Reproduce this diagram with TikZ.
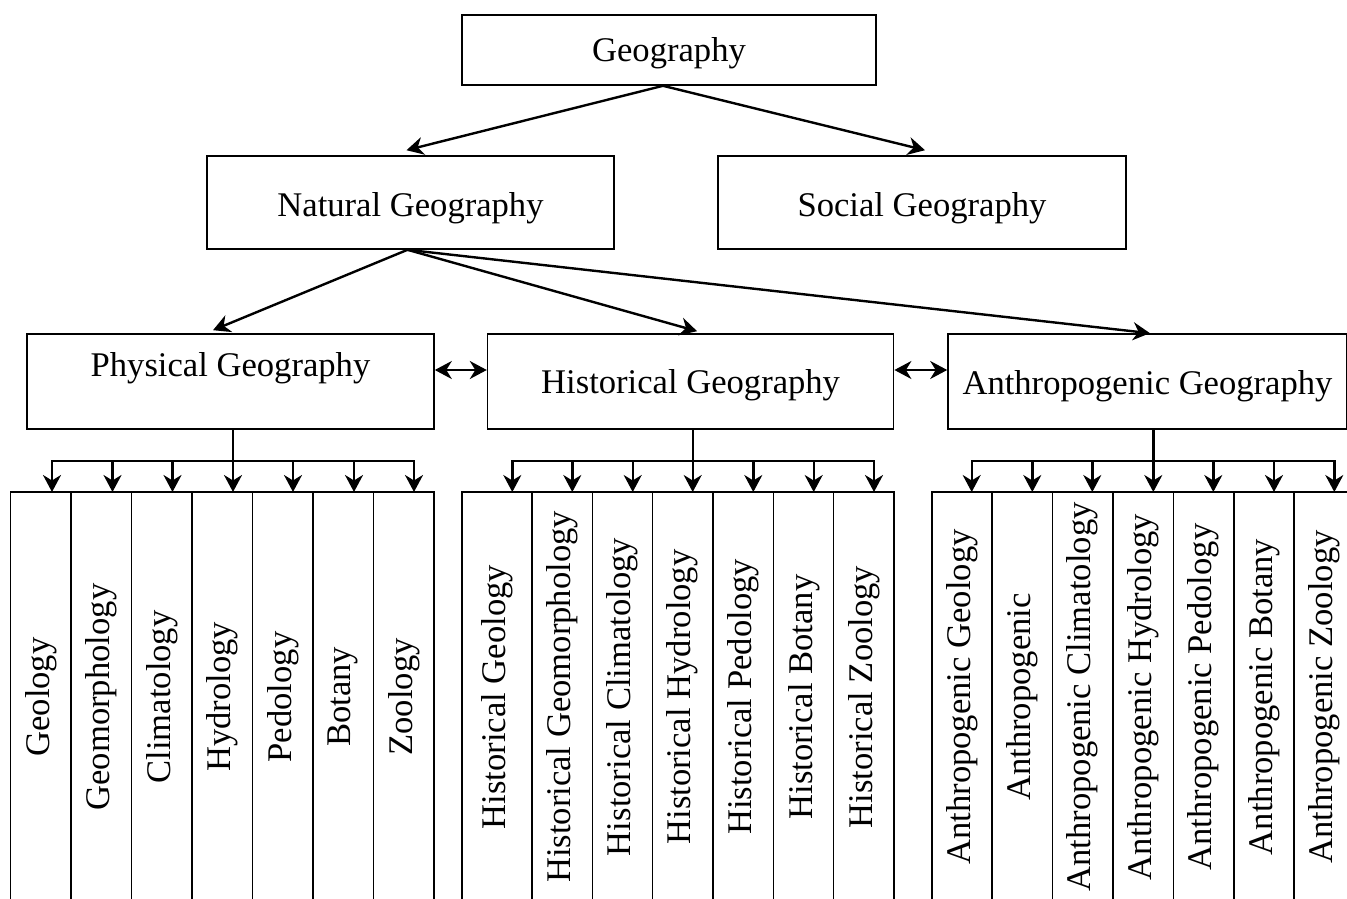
\documentclass[tikz,border=0pt]{standalone}
\usepackage{fontspec}
\setmainfont{Liberation Serif}
\usetikzlibrary{arrows.meta}
\begin{document}
\begin{tikzpicture}[x=1pt,y=-1pt,
  txt/.style={font=\fontsize{34.6pt}{41pt}\selectfont},
  box/.style={txt,draw,line width=1.6pt,inner sep=0pt,fill=white},
  vbox/.style={txt,draw,line width=1.6pt,inner sep=0pt,fill=white,rotate=90,minimum width=410pt},
  arr/.style={line width=2.4pt,-{Stealth[length=17pt,width=18pt,inset=5.5pt]}},
  darr/.style={line width=2.4pt,{Stealth[length=17pt,width=18pt,inset=5.5pt]}-{Stealth[length=17pt,width=18pt,inset=5.5pt]}}]
\useasboundingbox (0,0) rectangle (1347,899);
\clip (0,0) rectangle (1347,899);

% top levels
\node[box,minimum width=414pt,text height=47pt,text depth=23pt] (geo) at (669,50) {Geography};
\node[box,minimum width=407pt,text height=60.7pt,text depth=32.3pt] (nat) at (410.5,202.5) {Natural Geography};
\node[box,minimum width=408pt,text height=60.7pt,text depth=32.3pt] (soc) at (922,202.5) {Social Geography};
\node[box,minimum width=407pt,text height=42pt,text depth=53pt] (phys) at (230.5,381.5) {Physical Geography};
\node[box,minimum width=406pt,text height=59pt,text depth=36pt] (hist) at (690.6,381.5) {Historical Geography};
\node[box,minimum width=399pt,text height=60pt,text depth=35pt] (anth) at (1147.5,381.5) {Anthropogenic Geography};

\draw[arr] ([xshift=-6pt]geo.south) -- ([xshift=-4pt,yshift=5pt]nat.north);
\draw[arr] ([xshift=-6pt]geo.south) -- ([xshift=3pt,yshift=5pt]soc.north);
\draw[arr] ([xshift=-3pt]nat.south) -- ([xshift=-17.5pt,yshift=3pt]phys.north);
\draw[arr] ([xshift=-3pt]nat.south) -- ([xshift=6.5pt,yshift=2pt]hist.north);
\draw[arr] ([xshift=-3pt]nat.south) -- ([xshift=2.5pt]anth.north);

\draw[darr] ([yshift=11.5pt]phys.east) -- ([yshift=11.5pt]hist.west);
\draw[darr] ([yshift=11.5pt]hist.east) -- ([yshift=11.5pt]anth.west);

% bottom boxes: group A
\foreach \cx/\w/\t [count=\i] in {40.9/60.5/Geology,101.4/60.5/Geomorphology,161.9/60.5/Climatology,222.3/60.5/Hydrology,282.8/60.5/Pedology,343.3/60.5/Botany,403.8/60.5/Zoology}
  \node[vbox,minimum height=\w pt] (gA\i) at (\cx,697) {\t};
% group B
\foreach \cx/\w/\t [count=\i] in {497/70.6/Historical Geology,562.3/60.3/Historical Geomorphology,622.5/60.3/Historical Climatology,682.7/60.3/Historical Hydrology,743.2/60.3/Historical Pedology,803.8/60.3/Historical Botany,863.8/60.3/Historical Zoology}
  \node[vbox,minimum height=\w pt] (gB\i) at (\cx,697) {\t};
% group C
\foreach \cx/\w/\t [count=\i] in {961.9/60.4/Anthropogenic Geology,1022.3/60.4/Anthropogenic,1082.7/60.4/Anthropogenic Climatology,1143.1/60.4/Anthropogenic Hydrology,1203.5/60.4/Anthropogenic Pedology,1263.9/60.4/Anthropogenic Botany,1324.3/60.4/Anthropogenic Zoology}
  \node[vbox,minimum height=\w pt] (gC\i) at (\cx,697) {\t};

% arrow tip coordinates
\foreach \x [count=\i] in {52,112.5,172.5,233,293,354,414}
  \coordinate (tA\i) at (\x,492);
\foreach \x [count=\i] in {512.3,572.3,632.7,692.7,753.3,813.7,874}
  \coordinate (tB\i) at (\x,492);
\foreach \x [count=\i] in {971.7,1032.3,1092.3,1153.3,1213.3,1274,1334.3}
  \coordinate (tC\i) at (\x,492);
\coordinate (jA) at (233,460.7);
\coordinate (jB) at (692.7,460.7);
\coordinate (jC) at (1153.3,460.7);

% distribution arrows
\foreach \g/\p in {A/phys,B/hist,C/anth}{
  \draw[arr] (\p.south -| t\g4) -- (t\g4);
  \draw[arr] (j\g) -| (t\g1);
  \draw[arr] (j\g) -| (t\g7);
  \foreach \i in {2,3,5,6}
    \draw[arr] (t\g\i |- j\g) -- (t\g\i);
}
\end{tikzpicture}
\end{document}
